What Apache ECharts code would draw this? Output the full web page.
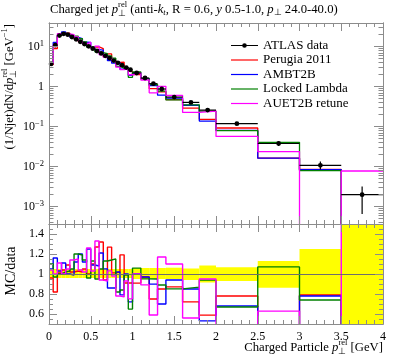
<!DOCTYPE html>
<html><head><meta charset="utf-8">
<script src="https://cdn.jsdelivr.net/npm/echarts@6/dist/echarts.min.js"></script>
<style>html,body{margin:0;padding:0;background:#fff}#c{width:397px;height:358px}</style>
</head><body><div id="c"></div>
<script>
// ---------------- data ----------------
const binEdges = [0,0.05,0.1,0.15,0.2,0.25,0.3,0.35,0.4,0.45,0.5,0.55,0.6,0.65,0.7,0.75,0.8,0.85,0.9,0.95,1.0,1.1,1.2,1.3,1.4,1.6,1.8,2.0,2.5,3.0,3.5,4.0];
const dataValues = [3.7,11.0,19.0,21.0,20.0,17.5,15.3,13.3,11.6,10.2,8.9,7.8,6.8,5.9,5.2,4.5,3.95,3.45,3.0,2.65,2.2,1.65,1.19,0.875,0.55,0.405,0.26,0.119,0.038,0.0108,0.0020];
const dataRelErrUp = [0.05,0.05,0.05,0.05,0.05,0.05,0.05,0.05,0.05,0.05,0.05,0.05,0.05,0.05,0.05,0.05,0.05,0.05,0.05,0.05,0.06,0.06,0.06,0.06,0.063,0.055,0.085,0.067,0.13,0.25,0.6];
const dataRelErrDown = [0.04,0.04,0.04,0.04,0.04,0.04,0.04,0.04,0.04,0.04,0.04,0.04,0.04,0.04,0.04,0.04,0.04,0.04,0.04,0.04,0.05,0.05,0.05,0.05,0.05,0.06,0.085,0.07,0.137,0.21,0.67];
const perugia2011 = [3.55,9.02,19.19,21.84,21.8,17.85,15.76,13.57,12.18,10.2,9.79,9.91,8.98,5.55,6.60,4.55,4.03,4.11,2.73,2.41,2.00,1.60,0.893,0.744,0.479,0.292,0.153,0.0928,0.0163,0.00853,0];
const ambt2b = [3.89,12.76,19.57,23.31,20.0,17.33,17.14,15.96,12.99,12.75,9.70,8.42,8.23,6.20,4.47,3.87,4.03,2.73,3.00,1.91,2.20,1.60,1.07,0.613,0.517,0.344,0.138,0.0809,0.0163,0.00842,0];
const lockedLambda = [4.07,10.67,19.0,21.42,20.6,18.38,18.36,15.83,13.22,9.79,10.06,7.41,7.14,6.67,5.93,5.18,3.24,2.90,2.97,1.72,2.33,1.57,1.13,0.779,0.468,0.352,0.244,0.0797,0.0407,0.00799,0];
const auet2b = [3.85,11.0,21.09,21.0,21.0,19.95,17.60,13.83,11.83,12.85,9.17,10.37,6.39,5.49,5.36,4.41,3.08,2.66,2.79,1.99,2.20,1.47,0.702,1.024,0.605,0.227,0.247,0.0571,0.0239,0,0.0078];
const mcNames = ['Perugia 2011','AMBT2B','Locked Lambda','AUET2B retune'];
const mcColors = ['#ff0000','#0000ff','#008000','#ff00ff'];
const xTickLabels = [0,0.5,1,1.5,2,2.5,3,3.5,4];
const mainYTicks = [1e-3,1e-2,1e-1,1,10];
const ratioYTicks = [0.6,0.8,1.0,1.2,1.4];

// ---------------- helpers ----------------
const FONT = '"Liberation Serif", "Times New Roman", serif';
const AX = '#8c8c8c';
const mctx = document.createElement('canvas').getContext('2d');
function fontStr(size, italic){ return (italic ? 'italic ' : '') + size + 'px ' + FONT; }
function textRun(segs, base){
  const kids = []; let cx = 0;
  for (const s of segs){
    const parts = s.stack ? s.stack : [s];
    let adv = 0;
    for (const p of parts){
      const size = p.s || base;
      const f = fontStr(size, p.i);
      mctx.font = f;
      const w = mctx.measureText(p.t).width;
      kids.push({type:'text', x: cx, y: (p.dy || 0), silent:true,
        style:{text:p.t, font:f, fill:'#000', align:'left', verticalAlign:'middle'}});
      adv = Math.max(adv, w);
    }
    cx += adv;
  }
  return {kids, width: cx};
}

const nb = dataValues.length;
const mcSets = [perugia2011, ambt2b, lockedLambda, auet2b];
const TINY = 1e-9;
function stepData(vals, transform){
  const out = [];
  for (let i = 0; i < nb; i++) out.push([binEdges[i], transform(vals[i], i)]);
  out.push([binEdges[nb], transform(vals[nb-1], nb-1)]);
  return out;
}

// minor log ticks
const logMinor = [];
for (let e = -4; e <= 1; e++) for (let m = 2; m <= 9; m++) logMinor.push(m * Math.pow(10, e));
const ratioMinor = [0.55,0.65,0.7,0.75,0.85,0.9,0.95,1.05,1.1,1.15,1.25,1.3,1.35,1.45];

const LOGMAX = Math.pow(10, 1.5925), LOGMIN = Math.pow(10, 1.5925 - 5.025);

function xAxisCfg(gridIndex, position, labels){
  return {type:'value', gridIndex, position, min:0, max:4, interval:0.5, z:5,
    axisLine:{show:true, onZero:false, lineStyle:{color:AX, width:1}},
    axisTick:{show:true, inside:true, length:8, lineStyle:{color:AX}},
    minorTick:{show:true, splitNumber:5, length:4, lineStyle:{color:AX}},
    splitLine:{show:false},
    axisLabel:{show:labels, margin:7, color:'#000', fontFamily:FONT, fontSize:12,
      formatter: v => (xTickLabels.indexOf(v) >= 0 ? String(v) : '')}};
}
function logAxis(position, ticks, len, labels){
  return {type:'log', gridIndex:0, position, min:LOGMIN, max:LOGMAX, z:5,
    axisLine:{show:true, onZero:false, lineStyle:{color:AX}},
    axisTick:{show:true, inside:true, length:len, customValues:ticks, lineStyle:{color:AX}},
    minorTick:{show:false}, splitLine:{show:false},
    axisLabel:{show:labels, customValues:ticks, margin:5, color:'#000', fontFamily:FONT, fontSize:12,
      formatter: v => { const e = Math.round(Math.log10(v)); if (e === 0) return '1';
        return '10{sup|' + (e < 0 ? '\u2212' : '') + Math.abs(e) + '}'; },
      rich:{sup:{fontSize:8.5, fontFamily:FONT, color:'#000', verticalAlign:'bottom', padding:[0,0,6,0]}}}};
}
function ratioAxis(position, ticks, len, labels){
  return {type:'value', gridIndex:1, position, min:0.5, max:1.5, z:5,
    axisLine:{show:true, onZero:false, lineStyle:{color:AX}},
    axisTick:{show:true, inside:true, length:len, customValues:ticks, lineStyle:{color:AX}},
    minorTick:{show:false}, splitLine:{show:false},
    axisLabel:{show:labels, customValues:ticks, margin:5, color:'#000', fontFamily:FONT, fontSize:12,
      formatter: v => String(+v.toFixed(1))}};
}

const series = [];
// data uncertainty band in ratio panel
series.push({
  type:'custom', name:'band', xAxisIndex:3, yAxisIndex:4, silent:true, z:1,
  data: dataValues.map((v,i) => [binEdges[i], binEdges[i+1], 1 - dataRelErrDown[i], 1 + dataRelErrUp[i]]),
  encode:{x:[0,1], y:[2,3]},
  renderItem: (params, api) => {
    const p0 = api.coord([api.value(0), api.value(3)]);
    const p1 = api.coord([api.value(1), api.value(2)]);
    const cs = params.coordSys;
    const rect = echarts.graphic.clipRectByRect(
      {x:p0[0], y:p0[1], width:p1[0]-p0[0], height:p1[1]-p0[1]},
      {x:cs.x, y:cs.y, width:cs.width, height:cs.height});
    return rect ? {type:'rect', shape:rect, style:{fill:'#ffff00'}} : null;
  },
  markLine:{silent:true, symbol:'none', label:{show:false}, lineStyle:{color:'#6e6e6e', width:1, type:'solid'},
    data:[{yAxis:1}]}
});
// MC step lines
mcSets.forEach((vals, k) => {
  series.push({type:'line', name:mcNames[k], xAxisIndex:0, yAxisIndex:0, step:'end', symbol:'none',
    clip:true, z:2, lineStyle:{color:mcColors[k], width:1.3}, itemStyle:{color:mcColors[k]},
    data: stepData(vals, v => (v > 0 ? v : TINY))});
  series.push({type:'line', name:mcNames[k], xAxisIndex:3, yAxisIndex:4, step:'end', symbol:'none',
    clip:true, z:2, lineStyle:{color:mcColors[k], width:1.4}, itemStyle:{color:mcColors[k]},
    data: stepData(vals, (v, i) => v / dataValues[i])});
});
// data points
series.push({
  type:'custom', name:'ATLAS data', xAxisIndex:0, yAxisIndex:0, z:4,
  itemStyle:{color:'#000'},
  data: dataValues.map((v,i) => [binEdges[i], binEdges[i+1], (binEdges[i]+binEdges[i+1])/2, v,
        v*(1 - dataRelErrDown[i]), v*(1 + dataRelErrUp[i])]),
  encode:{x:[0,1,2], y:[3,4,5]},
  renderItem: (params, api) => {
    const a = api.coord([api.value(0), api.value(3)]);
    const b = api.coord([api.value(1), api.value(3)]);
    const c = api.coord([api.value(2), api.value(3)]);
    const lo = api.coord([api.value(2), api.value(4)]);
    const hi = api.coord([api.value(2), api.value(5)]);
    return {type:'group', children:[
      {type:'line', shape:{x1:a[0], y1:a[1], x2:b[0], y2:b[1]}, style:{stroke:'#000', lineWidth:1.2}},
      {type:'line', shape:{x1:c[0], y1:lo[1], x2:c[0], y2:hi[1]}, style:{stroke:'#000', lineWidth:1.2}},
      {type:'circle', shape:{cx:c[0], cy:c[1], r:2.4}, style:{fill:'#000'}}
    ]};
  }
});

// texts
const graphics = [];
const title = textRun([
  {t:'Charged jet '}, {t:'p', i:1}, {stack:[{t:'rel', s:8.5, dy:-5}, {t:'\u22a5', s:8.5, dy:4}]},
  {t:' (anti-'}, {t:'k', i:1}, {t:'t', i:1, s:8.5, dy:3}, {t:', R = 0.6, '}, {t:'y', i:1},
  {t:' 0.5-1.0, '}, {t:'p', i:1}, {t:'\u22a5', s:8.5, dy:3}, {t:' 24.0-40.0)'}], 12.7);
graphics.push({type:'group', x:50, y:10, children:title.kids});

const xname = textRun([{t:'Charged Particle '}, {t:'p', i:1},
  {stack:[{t:'rel', s:8.5, dy:-5}, {t:'\u22a5', s:8.5, dy:4}]}, {t:' [GeV]'}], 12.7);
graphics.push({type:'group', x:383 - xname.width, y:348, children:xname.kids});

const yname = textRun([{t:'(1/Njet)dN/d'}, {t:'p', i:1},
  {stack:[{t:'rel', s:8.5, dy:-5}, {t:'\u22a5', s:8.5, dy:4}]}, {t:' [GeV'}, {t:'\u22121', s:8.5, dy:-5}, {t:']'}], 12.7);
graphics.push({type:'group', x:10, y:24 + yname.width, rotation:Math.PI/2, children:yname.kids});

const rname = textRun([{t:'MC/data'}], 14);
graphics.push({type:'group', x:11, y:271 + rname.width/2, rotation:Math.PI/2, children:rname.kids});

const lineIcon = 'path://M0,3H27V4.2H0Z';
const chart = echarts.init(document.getElementById('c'), null, {renderer:'canvas'});
chart.setOption({
  animation:false,
  backgroundColor:'#fff',
  grid:[{left:49, top:23, width:334, height:201}, {left:49, top:224, width:334, height:100}],
  xAxis:[xAxisCfg(0,'bottom',false), xAxisCfg(0,'top',false), xAxisCfg(1,'top',false), xAxisCfg(1,'bottom',true)],
  yAxis:[logAxis('left', mainYTicks, 9, true), logAxis('left', logMinor, 4.5, false),
         logAxis('right', mainYTicks, 9, false), logAxis('right', logMinor, 4.5, false),
         ratioAxis('left', ratioYTicks, 8, true), ratioAxis('left', ratioMinor, 4, false),
         ratioAxis('right', ratioYTicks, 8, false), ratioAxis('right', ratioMinor, 4, false)],
  legend:{left:226, top:34, orient:'vertical', itemWidth:27, itemHeight:7, itemGap:1.5,
    selectedMode:false,
    textStyle:{fontFamily:FONT, fontSize:13, color:'#000'},
    data:[{name:'ATLAS data', icon:'path://M0,3H27V4H0Z M13.5,1.2A2.3,2.3,0,1,1,13.49,1.2Z'},
      ...mcNames.map(n => ({name:n, icon:lineIcon}))]},
  graphic: graphics,
  series
});
</script>
</body></html>
